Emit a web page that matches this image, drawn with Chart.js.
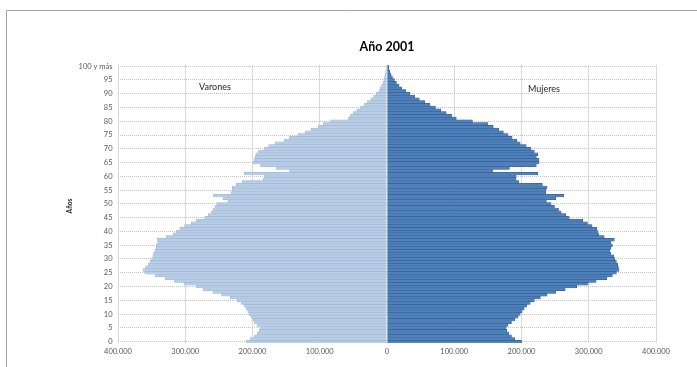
<!DOCTYPE html>
<html lang="es">
<head>
<meta charset="utf-8">
<title>Año 2001</title>
<script src="https://cdn.jsdelivr.net/npm/chart.js@4/dist/chart.umd.min.js"></script>
<style>
  html, body { margin: 0; padding: 0; background: #ffffff; }
  #wrap { position: relative; width: 697px; height: 367px; }
  canvas { display: block; }
</style>
</head>
<body>
<div id="wrap"><canvas id="piramide" width="697" height="367"></canvas></div>
<script>
// Edades 0..99 y el grupo abierto "100 y más"
const edades = [];
for (let i = 0; i < 100; i++) edades.push(String(i));
edades.push('100 y más');

// Población por edad simple, en miles de personas (edad 0 primero)
const varones = [
  209, 203, 197, 193, 190, 189, 193, 197, 199, 202,
  205, 207, 209, 212, 217, 223, 233, 246, 259, 273,
  284, 302, 316, 330, 345, 360, 363, 359, 355, 352,
  350, 348, 347, 345, 343, 343, 341, 342, 328, 318,
  313, 308, 301, 291, 284, 271, 266, 261, 259, 256,
  253, 236, 244, 258, 232, 230, 230, 224, 215, 184,
  182, 212, 145, 165, 188, 199, 197, 196, 195, 191,
  182, 176, 166, 153, 145, 132, 122, 113, 102, 95,
  85, 58, 55, 50, 45, 40, 34, 29, 24, 20,
  16, 12, 10, 8, 6, 4.5, 3.5, 2.5, 1.8, 1.2,
  1.5
];
const mujeres = [
  200, 190, 185, 181, 178, 177, 180, 185, 190, 195,
  198, 201, 204, 208, 213, 219, 228, 238, 251, 265,
  282, 299, 311, 327, 335, 341, 345, 344, 343, 341,
  339, 337, 333, 331, 333, 335, 333, 338, 323, 315,
  313, 312, 305, 298, 291, 271, 266, 259, 255, 249,
  244, 237, 251, 263, 236, 236, 238, 231, 196, 192,
  192, 224, 157, 182, 222, 226, 226, 222, 224, 219,
  214, 207, 198, 193, 186, 180, 173, 166, 158, 150,
  127, 103, 96, 88, 80, 72, 64, 56, 48, 41,
  34, 28, 22, 18, 14, 11, 8, 6, 4, 2.5,
  3
];

// Marcas del eje horizontal (miles)
const marcasX = [-400, -300, -200, -100, 0, 100, 200, 300, 400];

const fuenteEjes = "'Liberation Sans Narrow', 'Arial Narrow', Lato, sans-serif";

function miles(v) {
  return String(Math.round(Math.abs(v) * 1000)).replace(/\B(?=(\d{3})+(?!\d))/g, '.');
}

// Marco del área del gráfico y rótulos de texto
const rotulos = {
  id: 'rotulos',
  beforeDraw(chart) {
    const ctx = chart.ctx;
    ctx.save();
    ctx.strokeStyle = '#a3a3a3';
    ctx.lineWidth = 1;
    ctx.beginPath();
    ctx.moveTo(6.5, 367);
    ctx.lineTo(6.5, 10.5);
    ctx.lineTo(697, 10.5);
    ctx.stroke();
    ctx.restore();
  },
  afterDraw(chart) {
    const ctx = chart.ctx;
    const a = chart.chartArea;
    ctx.save();
    ctx.fillStyle = '#262626';
    ctx.font = "9px Lato, 'Open Sans', sans-serif";
    ctx.textAlign = 'center';
    ctx.textBaseline = 'middle';
    ctx.fillText('Varones', a.left + 97, 87.5);
    ctx.fillText('Mujeres', a.left + 426, 89.5);

    ctx.translate(69.5, 206);
    ctx.rotate(-Math.PI / 2);
    ctx.font = "bold 6.5px Lato, 'Open Sans', sans-serif";
    ctx.fillStyle = '#262626';
    ctx.fillText('Años', 0, 0);
    ctx.restore();
  }
};

new Chart(document.getElementById('piramide'), {
  type: 'bar',
  data: {
    labels: edades,
    datasets: [
      {
        label: 'Varones',
        data: varones.map(v => -v),
        backgroundColor: '#b9cde5',
        borderColor: '#95b3d7',
        borderWidth: 0.5,
        barPercentage: 1,
        categoryPercentage: 1
      },
      {
        label: 'Mujeres',
        data: mujeres,
        backgroundColor: '#4f81bd',
        borderColor: '#2f5684',
        borderWidth: 0.5,
        barPercentage: 1,
        categoryPercentage: 1
      }
    ]
  },
  options: {
    indexAxis: 'y',
    responsive: false,
    animation: false,
    devicePixelRatio: 1,
    layout: { padding: { left: 0, right: 41, top: 0, bottom: 0 } },
    plugins: {
      legend: { display: false },
      tooltip: { enabled: false },
      title: {
        display: true,
        text: 'Año 2001',
        fullSize: false,
        color: '#000000',
        font: { family: "Lato, 'Open Sans', sans-serif", weight: 'bold', size: 12.5, lineHeight: 1.2 },
        padding: { top: 39, bottom: 10.8 }
      }
    },
    scales: {
      x: {
        type: 'linear',
        stacked: true,
        min: -400,
        max: 400,
        afterBuildTicks(scale) { scale.ticks = marcasX.map(v => ({ value: v })); },
        afterFit(scale) { scale.height = 24; },
        ticks: {
          callback: v => miles(v),
          color: '#595959',
          font: { family: fuenteEjes, size: 7.5 },
          padding: 4,
          maxRotation: 0,
          autoSkip: false
        },
        grid: { color: '#d9d9d9', lineWidth: 1, drawTicks: false },
        border: { display: false }
      },
      y: {
        type: 'category',
        stacked: true,
        reverse: true,
        afterFit(scale) { scale.width = 118; },
        ticks: {
          autoSkip: false,
          callback(v, i) { return i % 5 === 0 ? this.getLabelForValue(v) : ''; },
          color: '#595959',
          font: { family: fuenteEjes, size: 7.5 },
          padding: 5.5
        },
        grid: {
          offset: false,
          drawTicks: false,
          lineWidth: 1,
          color: c => (c.index % 5 === 0 ? '#c4c4c4' : 'rgba(0,0,0,0)')
        },
        border: { display: false, dash: [1, 1] }
      }
    }
  },
  plugins: [rotulos]
});
</script>
</body>
</html>
